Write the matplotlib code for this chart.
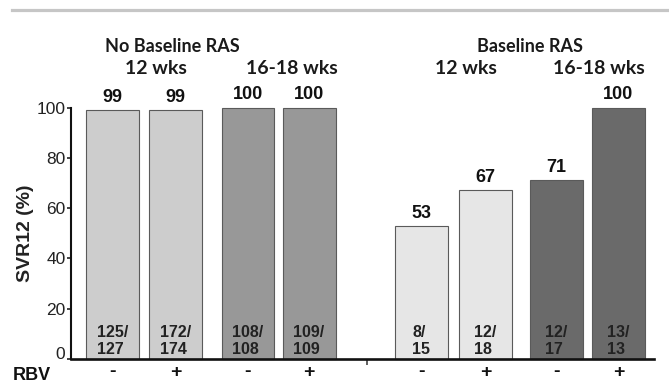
import matplotlib
matplotlib.use("Agg")
import matplotlib.pyplot as plt
import matplotlib.transforms as mtransforms
from matplotlib.lines import Line2D

# ---- data ----
rbv_labels = ["-", "+", "-", "+", "-", "+", "-", "+"]
svr_values = [99, 99, 100, 100, 53, 67, 71, 100]
fractions = ["125/\n127", "172/\n174", "108/\n108", "109/\n109",
             "8/\n15", "12/\n18", "12/\n17", "13/\n13"]
group_titles = ["No Baseline RAS", "Baseline RAS"]
duration_titles = ["12 wks", "16-18 wks", "12 wks", "16-18 wks"]
y_ticks = [0, 20, 40, 60, 80, 100]

# ---- layout / style ----
positions = [0, 1.0, 2.15, 3.12, 4.9, 5.92, 7.05, 8.03]
bar_colors = ["#cdcdcd", "#cdcdcd", "#989898", "#989898",
              "#e6e6e6", "#e6e6e6", "#6a6a6a", "#6a6a6a"]
bar_width = 0.84

W, H = 669, 383
fig = plt.figure(figsize=(W / 100, H / 100), dpi=100)

def fx(px):
    return px / W

def fy(py):
    return 1 - py / H

ax_left, ax_right = 71, 654
ax_bottom, ax_top = 359, 107.5
ax = fig.add_axes([fx(ax_left), fy(ax_bottom), fx(ax_right - ax_left), (ax_bottom - ax_top) / H])

ax.bar(positions, svr_values, width=bar_width, color=bar_colors,
       edgecolor="#5a5a5a", linewidth=0.8, clip_on=False, zorder=2)

ax.set_xlim(-0.659, 8.595)
ax.set_ylim(0, 100)

for s in ["top", "right"]:
    ax.spines[s].set_visible(False)
ax.spines["left"].set_linewidth(1.5)
ax.spines["bottom"].set_linewidth(1.9)
ax.spines["left"].set_color("#111111")
ax.spines["bottom"].set_color("#111111")
ax.spines["bottom"].set_zorder(3)

ax.set_yticks(y_ticks)
ax.set_yticklabels([str(t) for t in y_ticks], fontsize=12.5,
                   family="Liberation Sans", color="#222222")
ax.tick_params(axis="y", direction="out", length=3, width=1.1, pad=1, color="#111111")
# raise the "0" label slightly as in reference
lbl0 = ax.get_yticklabels()[0]
lbl0.set_transform(lbl0.get_transform() + mtransforms.ScaledTranslation(0, 6 / 100, fig.dpi_scale_trans))

# single small tick between the groups
ax.set_xticks([4.04])
ax.set_xticklabels([""])
ax.tick_params(axis="x", direction="out", length=4, width=1.2, color="#444444")

ax.set_ylabel("SVR12 (%)", fontsize=14, fontweight="bold", family="Liberation Sans",
              color="#222222", labelpad=2)

# value labels
for x, v in zip(positions, svr_values):
    ax.annotate(str(v), (x, v), xytext=(0, 3), textcoords="offset points",
                ha="center", va="bottom", fontsize=13, fontweight="bold",
                family="Liberation Sans", color="#111111", clip_on=False)

# fraction labels inside bars
for x, f in zip(positions, fractions):
    ax.text(x, 7.0, f, ha="center", va="center", multialignment="left",
            fontsize=11.5, fontweight="bold", family="Liberation Sans",
            color="#222222", linespacing=1.15, zorder=4)

# RBV +/- labels below axis
trans = mtransforms.blended_transform_factory(ax.transData, ax.transAxes)
off = mtransforms.ScaledTranslation(0, -13 / 100, fig.dpi_scale_trans)
for x, lab in zip(positions, rbv_labels):
    ax.text(x, 0, lab, transform=trans + off, ha="center", va="center",
            fontsize=14, fontweight="bold", family="Liberation Sans", color="#111111")

fig.text(fx(13), fy(376), "RBV", ha="left", va="center", fontsize=13,
         fontweight="bold", family="Liberation Sans", color="#111111")

# headers
hdr_font = dict(fontweight="bold", family="Lato", color="#1a1a1a",
                ha="center", va="center")
fig.text(fx(172), fy(46), group_titles[0], fontsize=13, **hdr_font)
fig.text(fx(530), fy(46), group_titles[1], fontsize=13, **hdr_font)
for cx, t in zip([156, 292, 466, 599], duration_titles):
    fig.text(fx(cx), fy(69), t, fontsize=14, **hdr_font)

# top gray rule
fig.add_artist(Line2D([fx(12), 1.0], [fy(9.5), fy(9.5)], color="#c6c6c6",
                      linewidth=2.3, transform=fig.transFigure))

fig.savefig("out.png", dpi=100)
